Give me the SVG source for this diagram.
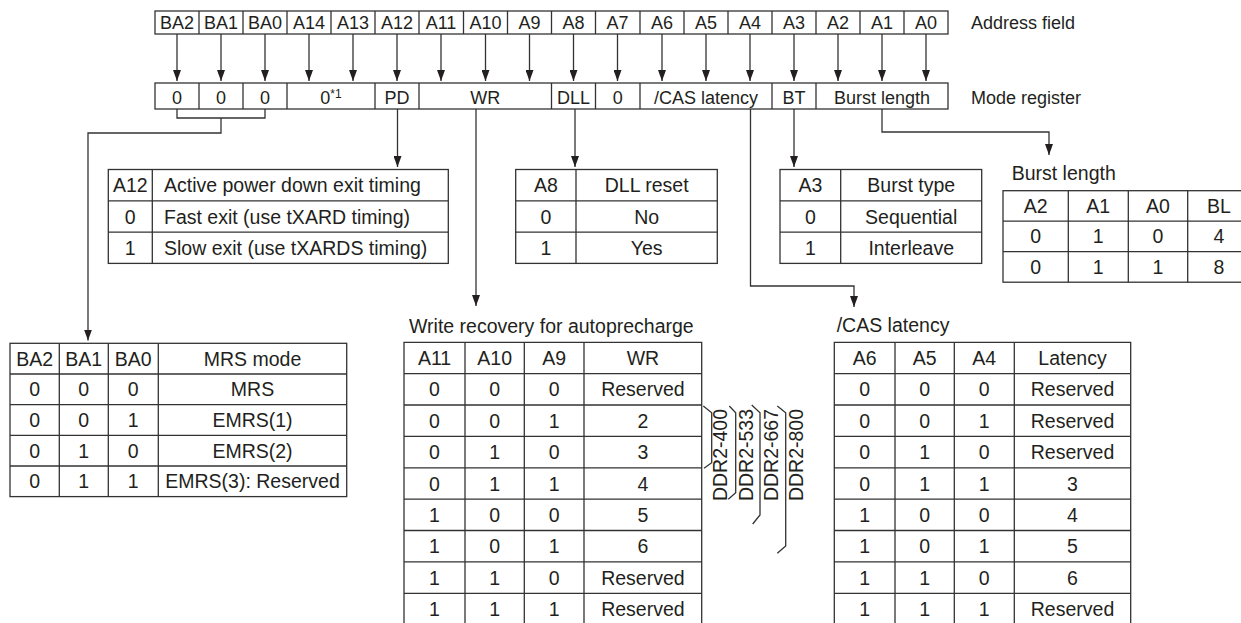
<svg xmlns="http://www.w3.org/2000/svg" width="1241" height="623" viewBox="0 0 1241 623">
<style>
.t{font-family:"Liberation Sans",Arial,sans-serif;font-size:19.5px;fill:#231f20}
.r{font-size:18px}
.c{text-anchor:middle}
.ln{fill:none;stroke:#333;stroke-width:1.3}
.cn{fill:none;stroke:#333;stroke-width:1.3}
.ar{fill:none;stroke:#333;stroke-width:1.3;marker-end:url(#ah)}
</style>
<defs>
<marker id="ah" viewBox="0 0 11 8" refX="11" refY="4" markerWidth="11" markerHeight="8" markerUnits="userSpaceOnUse" orient="auto"><path d="M0,0 L11,4 L0,8 z" fill="#231f20"/></marker>
</defs>
<rect width="1241" height="623" fill="#fff"/>

<g id="address-field">
<rect class="ln" x="155" y="11" width="793" height="23"/>
<path class="ln" d="M199,11V34M243,11V34M287,11V34M331,11V34M375,11V34M419,11V34M463.5,11V34M507.5,11V34M551.5,11V34M595.5,11V34M640,11V34M684,11V34M728,11V34M772,11V34M816,11V34M860,11V34M904,11V34"/>
<g class="t r c">
<text x="177" y="29">BA2</text><text x="221" y="29">BA1</text><text x="265" y="29">BA0</text><text x="309" y="29">A14</text><text x="353" y="29">A13</text><text x="397" y="29">A12</text><text x="441" y="29">A11</text><text x="485.5" y="29">A10</text><text x="529.5" y="29">A9</text><text x="573.5" y="29">A8</text><text x="617.5" y="29">A7</text><text x="662" y="29">A6</text><text x="706" y="29">A5</text><text x="750" y="29">A4</text><text x="794" y="29">A3</text><text x="838" y="29">A2</text><text x="882" y="29">A1</text><text x="926" y="29">A0</text>
</g>
<text class="t r" x="971" y="29">Address field</text>
</g>

<g id="mode-register">
<rect class="ln" x="155" y="83" width="793" height="26"/>
<path class="ln" d="M199,83V109M243,83V109M287,83V109M375,83V109M419,83V109M551.5,83V109M595.5,83V109M640,83V109M772,83V109M816,83V109"/>
<g class="t r c">
<text x="177" y="104">0</text><text x="221" y="104">0</text><text x="265" y="104">0</text>
<text x="331" y="104">0<tspan font-size="12" dy="-6">*1</tspan></text>
<text x="397" y="104">PD</text><text x="485.3" y="104">WR</text><text x="573.5" y="104">DLL</text><text x="617.7" y="104">0</text><text x="706" y="104">/CAS latency</text><text x="794" y="104">BT</text><text x="882" y="104">Burst length</text>
</g>
<text class="t r" x="971" y="104">Mode register</text>
</g>

<g id="connectors">
<path class="ar" d="M177,34V81"/><path class="ar" d="M221,34V81"/><path class="ar" d="M265,34V81"/><path class="ar" d="M309,34V81"/><path class="ar" d="M353,34V81"/><path class="ar" d="M397,34V81"/><path class="ar" d="M441,34V81"/><path class="ar" d="M485.5,34V81"/><path class="ar" d="M529.5,34V81"/><path class="ar" d="M573.5,34V81"/><path class="ar" d="M617.5,34V81"/><path class="ar" d="M662,34V81"/><path class="ar" d="M706,34V81"/><path class="ar" d="M750,34V81"/><path class="ar" d="M794,34V81"/><path class="ar" d="M838,34V81"/><path class="ar" d="M882,34V81"/><path class="ar" d="M926,34V81"/>
<path class="cn" d="M177,109V118H265V109"/>
<path class="ar" d="M221,118V133H88V340.5"/>
<path class="ar" d="M397.5,109V167"/>
<path class="ar" d="M476,109V306"/>
<path class="ar" d="M575,109V167"/>
<path class="ar" d="M750.5,109V286H854V307"/>
<path class="ar" d="M794,109V167"/>
<path class="ar" d="M882,109V132H1049V155"/>
</g>

<g id="pd-table">
<rect class="ln" x="108.3" y="169.5" width="340" height="93.9"/>
<path class="ln" d="M152.3,169.5V263.4M108.3,200.8H448.3M108.3,232.1H448.3"/>
<g class="t">
<text class="c" x="130.3" y="192.2">A12</text><text x="164" y="192.2">Active power down exit timing</text>
<text class="c" x="130.3" y="223.5">0</text><text x="164" y="223.5">Fast exit (use tXARD timing)</text>
<text class="c" x="130.3" y="254.8">1</text><text x="164" y="254.8">Slow exit (use tXARDS timing)</text>
</g>
</g>

<g id="dll-table">
<rect class="ln" x="515.7" y="169.5" width="201.6" height="93.9"/>
<path class="ln" d="M576,169.5V263.4M515.7,200.8H717.3M515.7,232.1H717.3"/>
<g class="t c">
<text x="545.9" y="192.2">A8</text><text x="646.7" y="192.2">DLL reset</text>
<text x="545.9" y="223.5">0</text><text x="646.7" y="223.5">No</text>
<text x="545.9" y="254.8">1</text><text x="646.7" y="254.8">Yes</text>
</g>
</g>

<g id="bt-table">
<rect class="ln" x="780" y="169.5" width="201.7" height="93.9"/>
<path class="ln" d="M840.7,169.5V263.4M780,200.8H981.7M780,232.1H981.7"/>
<g class="t c">
<text x="810.4" y="192.2">A3</text><text x="911.2" y="192.2">Burst type</text>
<text x="810.4" y="223.5">0</text><text x="911.2" y="223.5">Sequential</text>
<text x="810.4" y="254.8">1</text><text x="911.2" y="254.8">Interleave</text>
</g>
</g>

<g id="bl-table">
<text class="t" x="1011.7" y="179.7">Burst length</text>
<rect class="ln" x="1003" y="190.7" width="247" height="91.5"/>
<path class="ln" d="M1068.3,190.7V282.2M1128.3,190.7V282.2M1187.7,190.7V282.2M1003,221.2H1250M1003,251.7H1250"/>
<g class="t c">
<text x="1035.6" y="212.9">A2</text><text x="1098.3" y="212.9">A1</text><text x="1158" y="212.9">A0</text><text x="1219" y="212.9">BL</text>
<text x="1035.6" y="243.4">0</text><text x="1098.3" y="243.4">1</text><text x="1158" y="243.4">0</text><text x="1219" y="243.4">4</text>
<text x="1035.6" y="274">0</text><text x="1098.3" y="274">1</text><text x="1158" y="274">1</text><text x="1219" y="274">8</text>
</g>
</g>

<g id="mrs-table">
<rect class="ln" x="10" y="343.3" width="336.7" height="153.3"/>
<path class="ln" d="M59.3,343.3V496.6M108.3,343.3V496.6M158.3,343.3V496.6M10,374H346.7M10,404.7H346.7M10,435.3H346.7M10,466H346.7"/>
<g class="t c">
<text x="34.7" y="365.6">BA2</text><text x="83.8" y="365.6">BA1</text><text x="133.3" y="365.6">BA0</text><text x="252.5" y="365.6">MRS mode</text>
<text x="34.7" y="396.3">0</text><text x="83.8" y="396.3">0</text><text x="133.3" y="396.3">0</text><text x="252.5" y="396.3">MRS</text>
<text x="34.7" y="427">0</text><text x="83.8" y="427">0</text><text x="133.3" y="427">1</text><text x="252.5" y="427">EMRS(1)</text>
<text x="34.7" y="457.6">0</text><text x="83.8" y="457.6">1</text><text x="133.3" y="457.6">0</text><text x="252.5" y="457.6">EMRS(2)</text>
<text x="34.7" y="488.3">0</text><text x="83.8" y="488.3">1</text><text x="133.3" y="488.3">1</text><text x="252.5" y="488.3">EMRS(3): Reserved</text>
</g>
</g>

<g id="wr-table">
<text class="t" x="409" y="333">Write recovery for autoprecharge</text>
<path class="ln" d="M404,630V342.3H701.7V630M465,342.3V630M524.3,342.3V630M584,342.3V630M404,373.7H701.7M404,405H701.7M404,436.4H701.7M404,467.8H701.7M404,499.2H701.7M404,530.5H701.7M404,561.9H701.7M404,593.3H701.7"/>
<g class="t c">
<text x="434.5" y="365">A11</text><text x="494.7" y="365">A10</text><text x="554.2" y="365">A9</text><text x="642.9" y="365">WR</text>
<text x="434.5" y="396.4">0</text><text x="494.7" y="396.4">0</text><text x="554.2" y="396.4">0</text><text x="642.9" y="396.4">Reserved</text>
<text x="434.5" y="427.7">0</text><text x="494.7" y="427.7">0</text><text x="554.2" y="427.7">1</text><text x="642.9" y="427.7">2</text>
<text x="434.5" y="459.1">0</text><text x="494.7" y="459.1">1</text><text x="554.2" y="459.1">0</text><text x="642.9" y="459.1">3</text>
<text x="434.5" y="490.5">0</text><text x="494.7" y="490.5">1</text><text x="554.2" y="490.5">1</text><text x="642.9" y="490.5">4</text>
<text x="434.5" y="521.8">1</text><text x="494.7" y="521.8">0</text><text x="554.2" y="521.8">0</text><text x="642.9" y="521.8">5</text>
<text x="434.5" y="553.2">1</text><text x="494.7" y="553.2">0</text><text x="554.2" y="553.2">1</text><text x="642.9" y="553.2">6</text>
<text x="434.5" y="584.6">1</text><text x="494.7" y="584.6">1</text><text x="554.2" y="584.6">0</text><text x="642.9" y="584.6">Reserved</text>
<text x="434.5" y="615.9">1</text><text x="494.7" y="615.9">1</text><text x="554.2" y="615.9">1</text><text x="642.9" y="615.9">Reserved</text>
</g>
</g>

<g id="ddr-brackets">
<path class="ln" d="M703.3,406L711.7,412.7V462.7L704,468.3"/>
<path class="ln" d="M729.3,406L735.7,412.7V492.7L728.3,499.3"/>
<path class="ln" d="M751.7,405L760,412.7V515L752.7,524"/>
<path class="ln" d="M777.3,406L785.7,412.7V546L777.3,553.3"/>
<g class="t c" font-size="18">
<text transform="translate(726.7,455) rotate(-90)">DDR2-400</text>
<text transform="translate(753.3,455) rotate(-90)">DDR2-533</text>
<text transform="translate(778,455) rotate(-90)">DDR2-667</text>
<text transform="translate(803,455) rotate(-90)">DDR2-800</text>
</g>
</g>

<g id="cas-table">
<text class="t" x="836.7" y="331.5">/CAS latency</text>
<path class="ln" d="M834.3,630V342.3H1130.7V630M895,342.3V630M954.3,342.3V630M1014.3,342.3V630M834.3,373.7H1130.7M834.3,405H1130.7M834.3,436.4H1130.7M834.3,467.8H1130.7M834.3,499.2H1130.7M834.3,530.5H1130.7M834.3,561.9H1130.7M834.3,593.3H1130.7"/>
<g class="t c">
<text x="864.7" y="365">A6</text><text x="924.7" y="365">A5</text><text x="984.3" y="365">A4</text><text x="1072.5" y="365">Latency</text>
<text x="864.7" y="396.4">0</text><text x="924.7" y="396.4">0</text><text x="984.3" y="396.4">0</text><text x="1072.5" y="396.4">Reserved</text>
<text x="864.7" y="427.7">0</text><text x="924.7" y="427.7">0</text><text x="984.3" y="427.7">1</text><text x="1072.5" y="427.7">Reserved</text>
<text x="864.7" y="459.1">0</text><text x="924.7" y="459.1">1</text><text x="984.3" y="459.1">0</text><text x="1072.5" y="459.1">Reserved</text>
<text x="864.7" y="490.5">0</text><text x="924.7" y="490.5">1</text><text x="984.3" y="490.5">1</text><text x="1072.5" y="490.5">3</text>
<text x="864.7" y="521.8">1</text><text x="924.7" y="521.8">0</text><text x="984.3" y="521.8">0</text><text x="1072.5" y="521.8">4</text>
<text x="864.7" y="553.2">1</text><text x="924.7" y="553.2">0</text><text x="984.3" y="553.2">1</text><text x="1072.5" y="553.2">5</text>
<text x="864.7" y="584.6">1</text><text x="924.7" y="584.6">1</text><text x="984.3" y="584.6">0</text><text x="1072.5" y="584.6">6</text>
<text x="864.7" y="615.9">1</text><text x="924.7" y="615.9">1</text><text x="984.3" y="615.9">1</text><text x="1072.5" y="615.9">Reserved</text>
</g>
</g>
</svg>
